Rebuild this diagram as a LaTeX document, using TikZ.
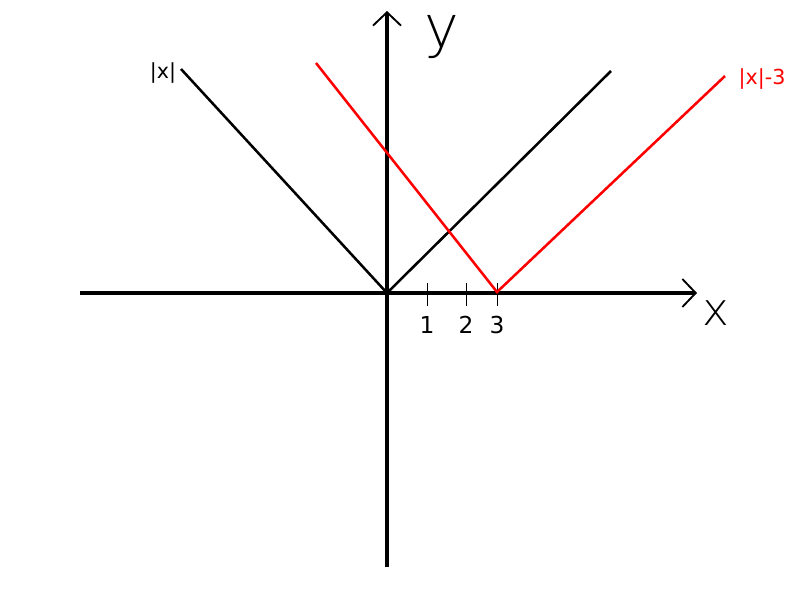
\documentclass[tikz,border=0pt]{standalone}
\usepackage{fontspec}
\setmainfont{DejaVu Sans}
\newfontfamily\thinfont{DejaVu Sans ExtraLight}
\usetikzlibrary{arrows.meta,positioning}

\begin{document}
\begin{tikzpicture}[x=0.75pt,y=-0.75pt, every node/.style={inner sep=0pt},
    axis/.style={line width=2.8pt,-{Straight Barb[length=10pt,width=21pt,line width=1.4pt]}},
    graph/.style={line width=1.9pt}, tickmark/.style={line width=0.7pt}]
  \useasboundingbox (0,0) rectangle (800,600);
  \coordinate (origin) at (387,293);
  \coordinate (xleft) at (80,293);
  \coordinate (xright) at (697,293);
  \coordinate (ybottom) at (387,567);
  \coordinate (ytop) at (387,11);
  \draw[axis] (xleft) -- (xright);
  \draw[axis] (ybottom) -- (ytop);
  \node[anchor=base,font=\thinfont\fontsize{44}{44}\selectfont] (ylabel) at (442,47) {y};
  \node[anchor=base,font=\thinfont\fontsize{34}{34}\selectfont] (xlabel) at (716,325) {x};
  % ticks
  \foreach \px/\n in {427/1,466/2,497/3} {
    \draw[tickmark] (\px,283) coordinate (t\n) -- (\px,306);
    \node[anchor=north,font=\fontsize{17.5}{20}\selectfont] (l\n) at (\px,316) {\n};
  }
  % |x|
  \coordinate (absl) at (181,69);
  \coordinate (absr) at (611,71);
  \draw[graph] (absl) -- (origin) -- (absr);
  \node[font=\fontsize{15.5}{18}\selectfont] (abslabel) at (163,73) {|x|};
  % |x|-3
  \coordinate (shl) at (316,63);
  \coordinate (vertex) at (497,292);
  \coordinate (shr) at (725,76);
  \draw[graph,red] (shl) -- (vertex) -- (shr);
  \node[red,font=\fontsize{15.5}{18}\selectfont] (shlabel) at (762,79) {|x|-3};
\end{tikzpicture}
\end{document}
